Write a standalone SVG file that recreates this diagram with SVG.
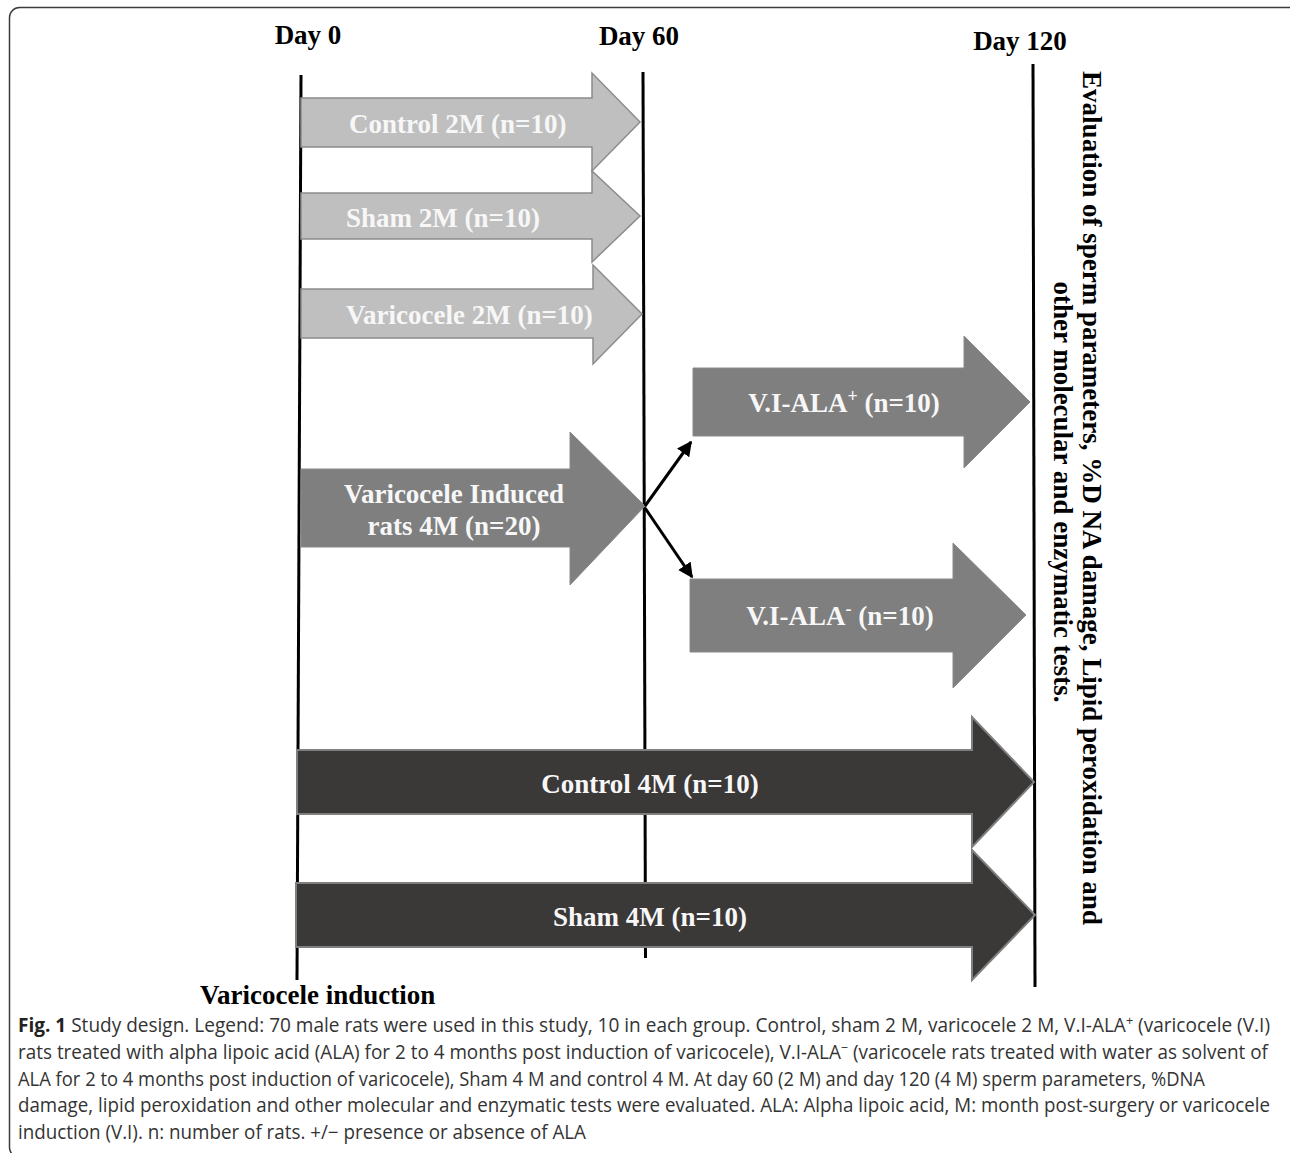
<svg xmlns="http://www.w3.org/2000/svg" width="1290" height="1153" viewBox="0 0 1290 1153">
<style>
.frame{fill:none;stroke:#3c3c3c;stroke-width:1.5}
.tl{stroke:#000;stroke-width:3;fill:none}
.day{font-family:"Liberation Serif","Times New Roman",serif;font-weight:bold;font-size:27px;fill:#000}
.a1{fill:#bfbfbf;stroke:#8c8c8c;stroke-width:1.5}
.a2{fill:#7f7f7f;stroke:#8a8a8a;stroke-width:1}
.a3{fill:#3b3838;stroke:#7f7f7f;stroke-width:2}
.lbl{font-family:"Liberation Serif","Times New Roman",serif;font-weight:bold;font-size:27px;fill:#f7f7f7}
.vt{font-family:"Liberation Serif","Times New Roman",serif;font-weight:bold;font-size:27px;fill:#000}
.conn{stroke:#000;stroke-width:3;fill:none}
.cap{font-family:"Open Sans","Noto Sans",sans-serif;font-size:19.5px;fill:#333}
.capb{font-weight:bold;fill:#222}
</style>
<defs>
<marker id="ah" viewBox="0 0 10 10" refX="9" refY="5" markerWidth="5" markerHeight="5" orient="auto">
<path d="M0,0 L10,5 L0,10 z" fill="#000"/>
</marker>
</defs>
<rect class="frame" x="9.5" y="7.5" width="1290" height="1150" rx="10"/>

<g id="timeline">
<line class="tl" x1="301" y1="75" x2="297" y2="980"/>
<line class="tl" x1="643" y1="72" x2="645.5" y2="958"/>
<line class="tl" x1="1033" y1="64" x2="1035" y2="987"/>
<text class="day" x="308" y="44" text-anchor="middle">Day 0</text>
<text class="day" x="639" y="45" text-anchor="middle">Day 60</text>
<text class="day" x="1020" y="50" text-anchor="middle">Day 120</text>
<text class="day" x="200" y="1004">Varicocele induction</text>
</g>

<g id="control2m">
<polygon class="a1" points="301,98 592,98 592,73 640,122 592,171 592,147 301,147"/>
<text class="lbl" x="349" y="133">Control 2M (n=10)</text>
</g>
<g id="sham2m">
<polygon class="a1" points="301,193 592,193 592,171 640,216 592,262 592,239 301,239"/>
<text class="lbl" x="346" y="227">Sham 2M (n=10)</text>
</g>
<g id="varicocele2m">
<polygon class="a1" points="301,289 593,289 593,265 642,314 593,364 593,338 301,338"/>
<text class="lbl" x="346" y="324">Varicocele 2M (n=10)</text>
</g>
<g id="varicocele4m">
<polygon class="a2" points="301,469 570,469 570,432 645,506 570,585 570,547 301,547"/>
<text class="lbl" x="454" y="503" text-anchor="middle">Varicocele Induced</text>
<text class="lbl" x="454" y="535" text-anchor="middle">rats 4M (n=20)</text>
</g>
<g id="vialaplus">
<polygon class="a2" points="693,368 964,368 964,336 1030,402 964,468 964,436 693,436"/>
<text class="lbl" x="844" y="412" text-anchor="middle">V.I-ALA<tspan font-size="18" dy="-10">+</tspan><tspan dy="10"> (n=10)</tspan></text>
</g>
<g id="vialaminus">
<polygon class="a2" points="690,579 953,579 953,543 1026,615 953,688 953,652 690,652"/>
<text class="lbl" x="840" y="625" text-anchor="middle">V.I-ALA<tspan font-size="18" dy="-10">-</tspan><tspan dy="10"> (n=10)</tspan></text>
</g>
<g id="control4m">
<polygon class="a3" points="297,750 972,750 972,717 1034,782 972,847 972,814 297,814"/>
<text class="lbl" x="650" y="793" text-anchor="middle">Control 4M (n=10)</text>
</g>
<g id="sham4m">
<polygon class="a3" points="296,883 972,883 972,850 1035,915 972,980 972,947 296,947"/>
<text class="lbl" x="650" y="926" text-anchor="middle">Sham 4M (n=10)</text>
</g>

<g id="connectors">
<line class="conn" x1="645" y1="506" x2="691" y2="442" marker-end="url(#ah)"/>
<line class="conn" x1="645" y1="508" x2="692" y2="577" marker-end="url(#ah)"/>
</g>

<g id="evaluation">
<text class="vt" transform="translate(1083,498) rotate(90)" text-anchor="middle">Evaluation of sperm parameters, %D NA damage, Lipid peroxidation and</text>
<text class="vt" transform="translate(1054,492) rotate(90)" text-anchor="middle">other molecular and enzymatic tests.</text>
</g>

<g id="caption">
<text class="cap" x="18" y="1032" textLength="1252" lengthAdjust="spacingAndGlyphs"><tspan class="capb">Fig. 1</tspan> Study design. Legend: 70 male rats were used in this study, 10 in each group. Control, sham 2 M, varicocele 2 M, V.I-ALA<tspan font-size="13" dy="-7">+</tspan><tspan dy="7"> (varicocele (V.I)</tspan></text>
<text class="cap" x="18" y="1059" textLength="1250" lengthAdjust="spacingAndGlyphs">rats treated with alpha lipoic acid (ALA) for 2 to 4 months post induction of varicocele), V.I-ALA<tspan font-size="13" dy="-7">−</tspan><tspan dy="7"> (varicocele rats treated with water as solvent of</tspan></text>
<text class="cap" x="18" y="1086" textLength="1187" lengthAdjust="spacingAndGlyphs">ALA for 2 to 4 months post induction of varicocele), Sham 4 M and control 4 M. At day 60 (2 M) and day 120 (4 M) sperm parameters, %DNA</text>
<text class="cap" x="18" y="1112" textLength="1252" lengthAdjust="spacingAndGlyphs">damage, lipid peroxidation and other molecular and enzymatic tests were evaluated. ALA: Alpha lipoic acid, M: month post-surgery or varicocele</text>
<text class="cap" x="18" y="1139" textLength="568" lengthAdjust="spacingAndGlyphs">induction (V.I). n: number of rats. +/− presence or absence of ALA</text>
</g>
</svg>
